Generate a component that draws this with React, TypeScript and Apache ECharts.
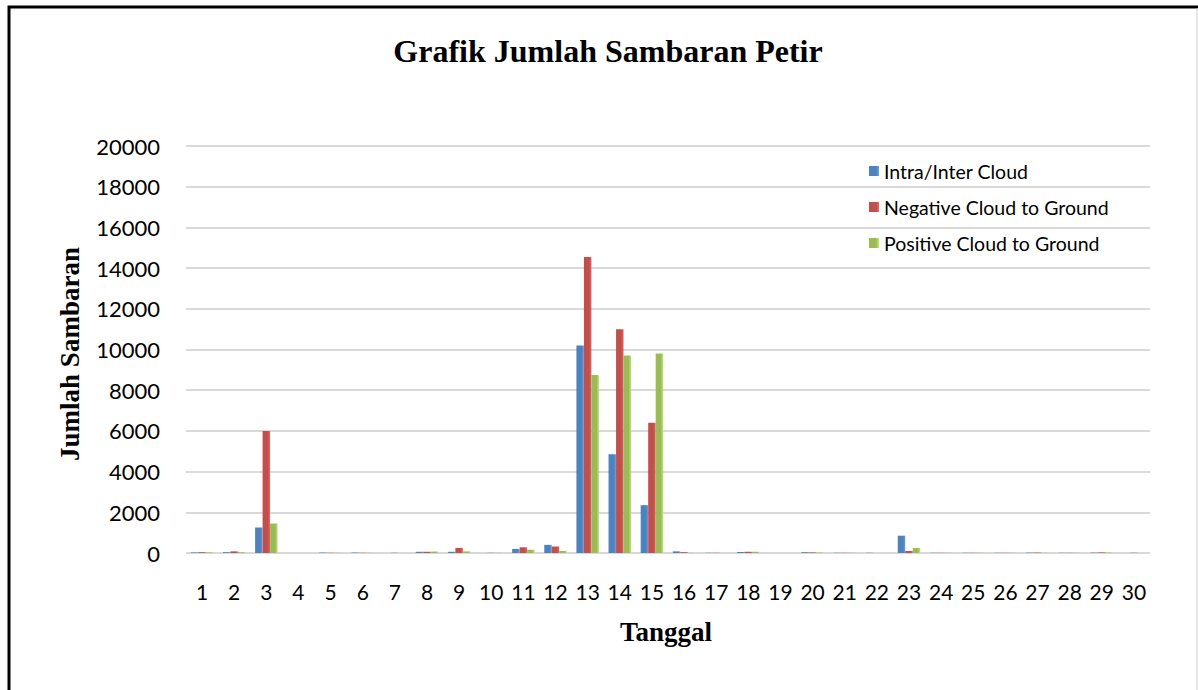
import React, { useEffect, useRef } from "react";
import * as echarts from "echarts";

const categories = Array.from({ length: 30 }, (_, i) => String(i + 1));
const seriesNames = ["Intra/Inter Cloud", "Negative Cloud to Ground", "Positive Cloud to Ground"];
const intraCloud = [30, 40, 1250, 0, 20, 20, 0, 60, 60, 0, 200, 400, 10200, 4850, 2350, 80, 10, 50, 0, 40, 10, 10, 850, 10, 10, 10, 20, 10, 20, 0];
const negativeCG = [40, 80, 6000, 0, 10, 10, 10, 60, 250, 10, 280, 320, 14550, 11000, 6400, 40, 10, 60, 0, 30, 10, 0, 100, 10, 10, 10, 20, 10, 30, 10];
const positiveCG = [30, 40, 1450, 0, 10, 10, 0, 70, 80, 10, 160, 100, 8750, 9700, 9800, 10, 0, 60, 0, 20, 10, 0, 250, 10, 10, 10, 10, 10, 20, 0];
const colors = ["#4F81BD", "#C0504D", "#9BBB59"];

export default function App() {
  const ref = useRef<HTMLDivElement>(null);
  useEffect(() => {
    const chart = echarts.init(ref.current!, null, { renderer: "svg" });
    const data = [intraCloud, negativeCG, positiveCG];
    chart.setOption({
      animation: false,
      backgroundColor: "#ffffff",
      title: {
        text: "Grafik Jumlah Sambaran Petir",
        left: 603,
        textAlign: "center",
        top: 30,
        textStyle: { fontFamily: "Liberation Serif", fontWeight: "bold", fontSize: 32, color: "#000" },
      },
      legend: {
        orient: "vertical",
        left: 864,
        top: 155,
        itemWidth: 10,
        itemHeight: 10,
        itemGap: 14,
        icon: "rect",
        data: seriesNames,
        textStyle: { fontFamily: "Lato", fontSize: 19.5, color: "#000", lineHeight: 22 },
      },
      grid: { left: 186, right: 48, top: 146, bottom: 137, containLabel: false },
      xAxis: {
        type: "category",
        data: categories,
        axisLine: { show: false },
        axisTick: { show: false },
        axisLabel: { fontFamily: "Lato", fontSize: 21, color: "#000", margin: 28, interval: 0 },
      },
      yAxis: {
        type: "value",
        min: 0,
        max: 20000,
        interval: 2000,
        axisLine: { show: false },
        axisTick: { show: false },
        axisLabel: { fontFamily: "Lato", fontSize: 22, color: "#000", margin: 26, formatter: (v: number) => String(v) },
        splitLine: { lineStyle: { color: "#d9d9d9", width: 2 } },
      },
      graphic: [
        {
          type: "text",
          x: 70,
          y: 354,
          rotation: Math.PI / 2,
          style: {
            text: "Jumlah Sambaran",
            fontFamily: "Liberation Serif",
            fontWeight: "bold",
            fontSize: 27,
            fill: "#000",
            align: "center",
            verticalAlign: "middle",
          },
        },
        {
          type: "text",
          x: 666,
          y: 632,
          style: {
            text: "Tanggal",
            fontFamily: "Liberation Serif",
            fontWeight: "bold",
            fontSize: 27,
            fill: "#000",
            align: "center",
            verticalAlign: "middle",
          },
        },
        {
          type: "rect",
          shape: { x: 9, y: 7, width: 1300, height: 800 },
          style: { fill: "none", stroke: "#000", lineWidth: 3 },
          silent: true,
        },
        {
          type: "line",
          shape: { x1: 1197, y1: 8, x2: 1197, y2: 690 },
          style: { stroke: "#cccccc", lineWidth: 1 },
          silent: true,
        },
      ],
      series: seriesNames.map((name, i) => ({
        name,
        type: "bar",
        data: data[i],
        barWidth: 7.5,
        barGap: "0%",
        itemStyle: {
          color: new echarts.graphic.LinearGradient(0, 0, 1, 0, [
            { offset: 0, color: colors[i] },
            { offset: 0.7, color: colors[i] },
            { offset: 1, color: echarts.color.lift(colors[i], -0.25) },
          ]),
        },
      })),
      color: colors,
    });
    return () => chart.dispose();
  }, []);
  return <div ref={ref} style={{ position: "absolute", left: 0, top: 0, width: 1198, height: 690 }} />;
}
